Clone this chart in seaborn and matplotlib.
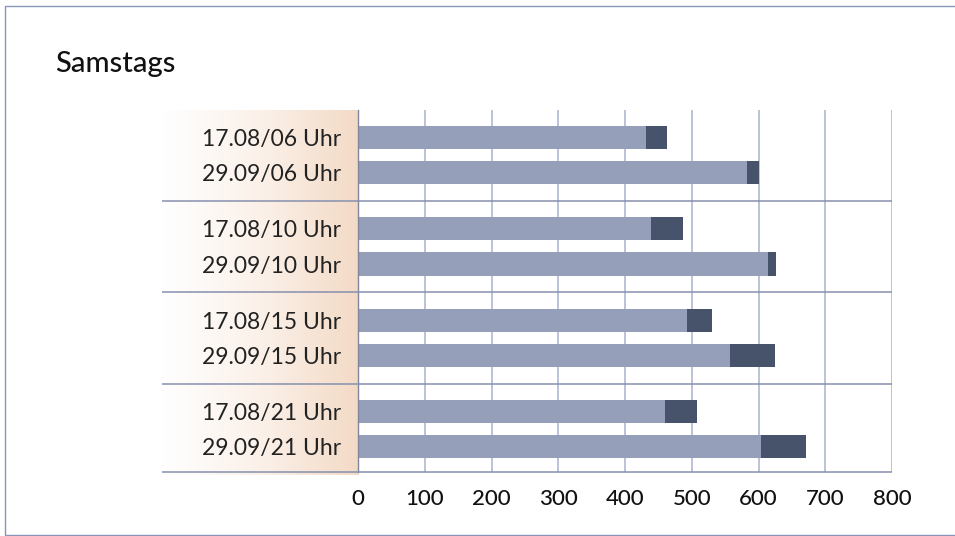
import numpy as np
import pandas as pd
import matplotlib
matplotlib.use("Agg")
import matplotlib.pyplot as plt
import seaborn as sns
from matplotlib.patches import Rectangle
from matplotlib.colors import LinearSegmentedColormap
from matplotlib.transforms import blended_transform_factory

# data
title = "Samstags"
labels = ["17.08/06 Uhr", "29.09/06 Uhr", "17.08/10 Uhr", "29.09/10 Uhr",
          "17.08/15 Uhr", "29.09/15 Uhr", "17.08/21 Uhr", "29.09/21 Uhr"]
base = [431, 583, 439, 614, 493, 557, 460, 604]
extra = [32, 18, 48, 12, 37, 68, 48, 67]
xticks = [0, 100, 200, 300, 400, 500, 600, 700, 800]

light = "#959fba"
dark = "#47526b"
grid_col = "#b6bed6"
sep_col = "#8690ae"

sns.set_theme(style="white")
plt.rcParams['font.family'] = ['Lato', 'DejaVu Sans']

# 4 time slots with 2 dates each
group = np.repeat(np.arange(4), 2)
slot = np.tile([0, 1], 4)
pos = group + slot * 0.385

df = pd.DataFrame({"label": labels, "pos": pos, "base": base,
                   "total": np.add(base, extra)})

fig = plt.figure(figsize=(9.55, 5.36), dpi=100)
W, H = 955, 536
ax = fig.add_axes([358 / W, 1 - 472 / H, (892 - 358) / W, (472 - 110) / H])
ax.set_zorder(2)
ax.patch.set_alpha(0)

# gradient behind the labels
bg = fig.add_axes([162 / W, 1 - 475 / H, (358 - 162) / W, (475 - 110) / H])
bg.set_zorder(1)
cmap = LinearSegmentedColormap.from_list("peach", ["#ffffff", "#fbf1e9", "#f3dac6"])
bg.imshow(np.linspace(0, 1, 256).reshape(1, -1), aspect="auto", cmap=cmap,
          extent=[0, 1, 0, 1])
bg.axis("off")

sns.barplot(data=df, x="total", y="pos", orient="h", native_scale=True,
            color=dark, saturation=1, width=0.66, errorbar=None, linewidth=0, ax=ax)
sns.barplot(data=df, x="base", y="pos", orient="h", native_scale=True,
            color=light, saturation=1, width=0.66, errorbar=None, linewidth=0, ax=ax)

ax.set_xlim(0, 800)
ax.set_ylim(3.66, -0.30)
ax.set_xticks(xticks)
ax.set_xticklabels([str(t) for t in xticks], fontsize=16, color="#111111",
                   fontweight="medium")
ax.set_yticks(pos)
ax.set_yticklabels(labels, fontsize=16.5, color="#222222")
ax.tick_params(axis="y", length=0, pad=12)
ax.tick_params(axis="x", length=6, width=1.3, color=grid_col, pad=6)
ax.set_xlabel("")
ax.set_ylabel("")
ax.xaxis.grid(True, color=grid_col, linewidth=1.3)
ax.yaxis.grid(False)
ax.set_axisbelow(True)
for s in ["top", "right", "bottom"]:
    ax.spines[s].set_visible(False)
ax.spines["left"].set_color("#7f879f")
ax.spines["left"].set_linewidth(1.0)

# separators between time slots
seps = list((pos[1::2][:-1] + pos[2::2]) / 2) + [3.66]
trans = blended_transform_factory(ax.transAxes, ax.transData)
ax.hlines(seps, (162 - 358) / (892 - 358), 1, transform=trans,
          colors=sep_col, linewidth=1.1, clip_on=False, zorder=3)

fig.text(55 / W, 1 - 64 / H, title, fontsize=21, fontweight="medium",
         va="center", ha="left", color="#111111")

# frame around the picture (open on the right)
fig.patches.append(Rectangle((4.5 / W, 1.5 / H), 1.2, (534 - 5.5) / H,
                             transform=fig.transFigure, fill=False,
                             edgecolor="#8a94b8", linewidth=1.0))

fig.savefig("out.png", dpi=100)
